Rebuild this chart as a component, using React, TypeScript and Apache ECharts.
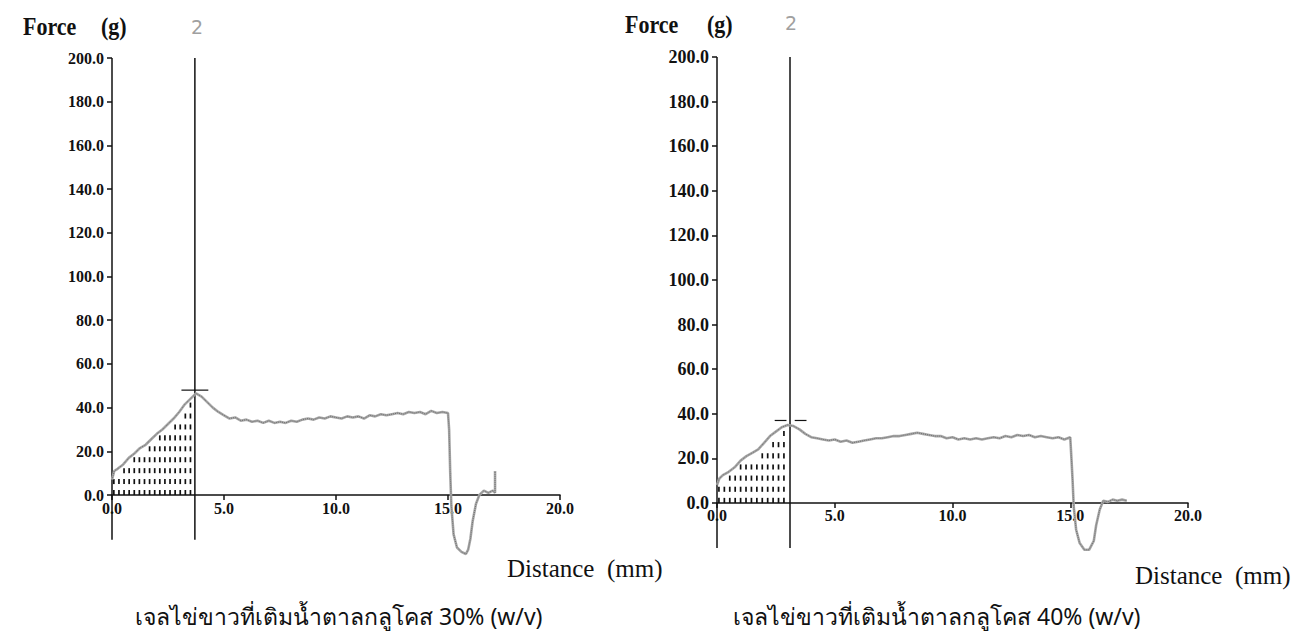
import React, { useEffect, useRef } from "react";
import * as echarts from "echarts";

// ---------- data ----------
const yTicks = [0, 20, 40, 60, 80, 100, 120, 140, 160, 180, 200];

// Force (g) vs Distance (mm), 30% glucose
const curve30: number[][] = [
  [0, 7], [0.1, 11], [0.25, 12], [0.5, 14], [0.75, 17], [1.0, 19], [1.25, 21.5], [1.5, 23],
  [1.75, 25.5], [2.0, 28], [2.25, 30], [2.5, 32.5], [2.75, 35], [3.0, 38], [3.25, 41.5],
  [3.5, 44], [3.75, 46.5], [4.0, 45], [4.25, 42.5], [4.5, 40], [4.75, 38], [5.0, 36.5],
  [5.25, 35], [5.5, 35.5], [5.75, 34], [6.0, 34.5], [6.25, 33.5], [6.5, 34], [6.75, 33],
  [7.0, 34], [7.25, 33], [7.5, 33.5], [7.75, 33], [8.0, 34], [8.25, 33.5], [8.5, 34.5],
  [8.75, 35], [9.0, 34.5], [9.25, 35.5], [9.5, 35], [9.75, 36], [10.0, 35.5], [10.25, 35],
  [10.5, 36], [10.75, 35.5], [11.0, 36], [11.25, 35], [11.5, 36.5], [11.75, 36], [12.0, 37],
  [12.25, 36.5], [12.5, 37], [12.75, 37.5], [13.0, 37], [13.25, 38], [13.5, 37.5], [13.75, 38],
  [14.0, 37], [14.25, 38.5], [14.5, 37.5], [14.75, 38], [15.0, 37.5], [15.05, 30], [15.1, 10],
  [15.15, -5], [15.25, -18], [15.4, -24], [15.6, -26], [15.8, -27], [15.9, -25], [16.0, -20],
  [16.1, -12], [16.25, -4], [16.4, 0], [16.6, 2], [16.8, 1], [17.0, 2], [17.1, 1], [17.1, 11],
];

// 40% glucose
const curve40: number[][] = [
  [0, 8], [0.1, 11], [0.25, 12.5], [0.5, 14], [0.75, 16], [1.0, 19], [1.25, 21], [1.5, 22.5],
  [1.75, 24], [2.0, 27], [2.25, 30], [2.5, 32], [2.75, 34], [3.0, 35], [3.25, 34.5], [3.5, 33],
  [3.75, 31], [4.0, 29.5], [4.25, 29], [4.5, 28.5], [4.75, 28], [5.0, 28.5], [5.25, 27.5],
  [5.5, 28], [5.75, 27], [6.0, 27.5], [6.25, 28], [6.5, 28.5], [6.75, 29], [7.0, 29],
  [7.25, 29.5], [7.5, 30], [7.75, 30], [8.0, 30.5], [8.25, 31], [8.5, 31.5], [8.75, 31],
  [9.0, 30.5], [9.25, 30], [9.5, 30], [9.75, 29], [10.0, 29.5], [10.25, 28.5], [10.5, 29],
  [10.75, 28.5], [11.0, 29], [11.25, 28.5], [11.5, 29], [11.75, 29.5], [12.0, 29], [12.25, 30],
  [12.5, 29.5], [12.75, 30.5], [13.0, 30], [13.25, 30.5], [13.5, 29.5], [13.75, 30], [14.0, 29.5],
  [14.25, 29], [14.5, 29.5], [14.75, 28.5], [15.0, 29.5], [15.05, 20], [15.1, 10], [15.15, -2],
  [15.25, -12], [15.4, -18], [15.6, -21], [15.8, -21], [16.0, -17], [16.1, -10], [16.25, -3],
  [16.4, 1], [16.6, 0.5], [16.8, 1.5], [17.0, 1], [17.2, 1.5], [17.4, 1],
];

const marker30 = 3.7; // anchor "2" distance
const marker40 = 3.1;
const peak30 = [[3.1, 48], [4.3, 48]];
const peak40a = [[2.45, 37], [2.95, 37]];
const peak40b = [[3.3, 37], [3.8, 37]];
const axisBottom30 = -20.5;
const axisBottom40 = -20.2;
const yMin30 = -28;
const yMin40 = -24;

const caption30 = "เจลไข่ขาวที่เติมน้ำตาลกลูโคส 30% (w/v)";
const caption40 = "เจลไข่ขาวที่เติมน้ำตาลกลูโคส 40% (w/v)";

// ---------- helpers ----------
function interp(curve: number[][], x: number) {
  for (let i = 1; i < curve.length; i++) {
    const [x0, y0] = curve[i - 1];
    const [x1, y1] = curve[i];
    if (x >= x0 && x <= x1) {
      if (x1 === x0) return y1;
      return y0 + ((y1 - y0) * (x - x0)) / (x1 - x0);
    }
  }
  return 0;
}

function hatchSeries(curve: number[][], endX: number, step: number, idx: number) {
  const cols: number[][] = [];
  for (let x = 0.08; x < endX - 0.08; x += step) cols.push([x]);
  return {
    type: "custom",
    xAxisIndex: idx,
    yAxisIndex: idx,
    silent: true,
    clip: false,
    data: cols,
    renderItem: (params: any, api: any) => {
      const x = api.value(0);
      const top = interp(curve, x) - 1.5;
      const children: any[] = [];
      for (let k = 0; k * 5 + 2.3 <= top; k++) {
        const p0 = api.coord([x, k * 5]);
        const p1 = api.coord([x, k * 5 + 2.3]);
        children.push({
          type: "rect",
          shape: { x: p0[0] - 0.8, y: p1[1], width: 1.7, height: p0[1] - p1[1] },
          style: { fill: "#111" },
        });
      }
      return { type: "group", children };
    },
  };
}

const labelFont = "'Liberation Serif', 'Times New Roman', serif";

function xAxisCfg(idx: number, offset: number) {
  return {
    type: "value",
    gridIndex: idx,
    position: "bottom",
    offset,
    min: 0,
    max: 20,
    interval: 5,
    axisLine: { onZero: false, lineStyle: { color: "#111", width: 1.5 } },
    axisTick: { show: true, length: 5, lineStyle: { color: "#111", width: 1.5 } },
    axisLabel: {
      margin: 5,
      color: "#111",
      fontFamily: labelFont,
      fontWeight: "bold",
      fontSize: 16,
      formatter: (v: number) => v.toFixed(1),
    },
    splitLine: { show: false },
  };
}

function yAxisCfg(idx: number, min: number, fs: number) {
  return {
    type: "value",
    gridIndex: idx,
    min,
    max: 200,
    axisLine: { show: false },
    axisTick: {
      show: true,
      customValues: yTicks,
      length: 5,
      lineStyle: { color: "#111", width: 1.5 },
    },
    axisLabel: {
      show: true,
      customValues: yTicks,
      margin: 8,
      color: "#111",
      fontFamily: labelFont,
      fontWeight: "bold",
      fontSize: fs,
      formatter: (v: number) => v.toFixed(1),
    },
    splitLine: { show: false },
  };
}

function lineSeries(data: number[][], idx: number, color: string, width: number, type = "solid") {
  return {
    type: "line",
    xAxisIndex: idx,
    yAxisIndex: idx,
    data,
    symbol: "none",
    clip: false,
    silent: true,
    lineStyle: { color, width, type },
    z: 3,
  };
}

export default function App() {
  const ref = useRef<HTMLDivElement>(null);
  useEffect(() => {
    if (!ref.current) return;
    const chart = echarts.init(ref.current, null, { renderer: "svg" });
    const titleStyle = {
      fontFamily: labelFont,
      fontWeight: "bold",
      fontSize: 22,
      fill: "#111",
    };
    const thaiFont = "'Noto Sans', 'DejaVu Sans', sans-serif";
    const h0 = 498.2;
    const h1 = 499.5;
    chart.setOption({
      animation: false,
      backgroundColor: "#fff",
      grid: [
        { left: 112, top: 58, width: 448, height: h0 },
        { left: 717, top: 57, width: 471, height: h1 },
      ],
      xAxis: [
        xAxisCfg(0, -(h0 * -yMin30) / (200 - yMin30)),
        xAxisCfg(1, -(h1 * -yMin40) / (200 - yMin40)),
      ],
      yAxis: [yAxisCfg(0, yMin30, 16), yAxisCfg(1, yMin40, 18)],
      series: [
        hatchSeries(curve30, marker30, 0.228, 0),
        hatchSeries(curve40, marker40, 0.23, 1),
        lineSeries([[0, axisBottom30], [0, 200]], 0, "#111", 1.5),
        lineSeries([[marker30, axisBottom30], [marker30, 200]], 0, "#111", 1.5),
        lineSeries(peak30, 0, "#111", 1.2),
        lineSeries(curve30, 0, "#a8a8a8", 2.6),
        lineSeries(curve30, 0, "#6e6e6e", 1, "dotted"),
        lineSeries([[0, axisBottom40], [0, 200]], 1, "#111", 1.5),
        lineSeries([[marker40, axisBottom40], [marker40, 200]], 1, "#111", 1.5),
        lineSeries(peak40a, 1, "#111", 1.2),
        lineSeries(peak40b, 1, "#111", 1.2),
        lineSeries(curve40, 1, "#a8a8a8", 2.6),
        lineSeries(curve40, 1, "#6e6e6e", 1, "dotted"),
      ],
      graphic: [
        { type: "text", left: 23, top: 14, scaleY: 1.15, style: { ...titleStyle, text: "Force" } },
        { type: "text", left: 101, top: 14, scaleY: 1.15, style: { ...titleStyle, text: "(g)" } },
        { type: "text", left: 625, top: 12, scaleY: 1.15, style: { ...titleStyle, text: "Force" } },
        { type: "text", left: 707, top: 12, scaleY: 1.15, style: { ...titleStyle, text: "(g)" } },
        {
          type: "text", left: 191, top: 17,
          style: { text: "2", fontFamily: "'DejaVu Sans', sans-serif", fontSize: 19, fill: "#a0a0a0" },
        },
        {
          type: "text", left: 785, top: 13,
          style: { text: "2", fontFamily: "'DejaVu Sans', sans-serif", fontSize: 19, fill: "#a0a0a0" },
        },
        {
          type: "text", left: 507, top: 556,
          style: { text: "Distance  (mm)", fontFamily: labelFont, fontSize: 25, fill: "#111" },
        },
        {
          type: "text", left: 1135, top: 563,
          style: { text: "Distance  (mm)", fontFamily: labelFont, fontSize: 25, fill: "#111" },
        },
        {
          type: "text", left: 135, top: 604,
          style: { text: caption30, fontFamily: thaiFont, fontSize: 23, fill: "#111" },
        },
        {
          type: "text", left: 733, top: 604,
          style: { text: caption40, fontFamily: thaiFont, fontSize: 23, fill: "#111" },
        },
      ],
    });
    return () => chart.dispose();
  }, []);
  return (
    <div
      ref={ref}
      style={{ position: "fixed", left: 0, top: 0, width: 1291, height: 644 }}
    />
  );
}
